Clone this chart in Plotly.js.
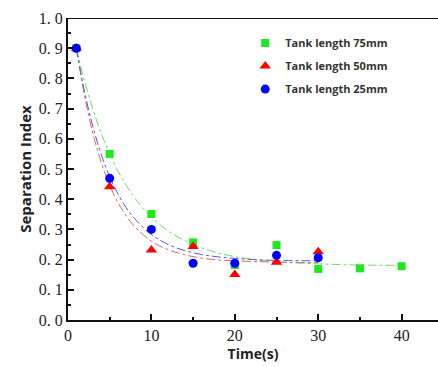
<!DOCTYPE html>
<html>
<head>
<meta charset="utf-8">
<script src="https://cdn.plot.ly/plotly-3.0.1.min.js"></script>
<style>html,body{margin:0;padding:0;background:#fff;}#chart{width:438px;height:367px;}</style>
</head>
<body>
<div id="chart"></div>
<script>
// measured points
const timeLong = [1, 5, 10, 15, 20, 25, 30, 35, 40];
const len75 = [0.90, 0.55, 0.351, 0.257, 0.182, 0.248, 0.169, 0.171, 0.178];
const timeShort = [1, 5, 10, 15, 20, 25, 30];
const len50 = [0.90, 0.441, 0.232, 0.243, 0.151, 0.191, 0.226];
const len25 = [0.90, 0.469, 0.300, 0.188, 0.188, 0.214, 0.206];

// fitted curves
const fitTimeLong = [1, 2, 3, 4, 5, 6, 7, 8, 10, 12, 14, 16, 18, 20, 23, 26, 30, 35, 40];
const fit75 = [0.900, 0.790, 0.696, 0.617, 0.550, 0.493, 0.445, 0.404, 0.341, 0.295, 0.263, 0.239, 0.222, 0.210, 0.198, 0.191, 0.186, 0.182, 0.181];
const fitTimeShort = [1, 2, 3, 4, 5, 6, 7, 8, 10, 12, 14, 16, 18, 20, 23, 26, 30];
const fit50 = [0.900, 0.740, 0.616, 0.520, 0.446, 0.388, 0.344, 0.309, 0.261, 0.233, 0.216, 0.205, 0.199, 0.196, 0.193, 0.191, 0.190];
const fit25 = [0.900, 0.754, 0.639, 0.547, 0.474, 0.417, 0.371, 0.335, 0.283, 0.250, 0.230, 0.217, 0.209, 0.204, 0.199, 0.197, 0.196];

const names = ['Tank length 75mm', 'Tank length 50mm', 'Tank length 25mm'];
const yTicks = [0, 0.1, 0.2, 0.3, 0.4, 0.5, 0.6, 0.7, 0.8, 0.9, 1.0];
const yTickText = ['0. 0', '0. 1', '0. 2', '0. 3', '0. 4', '0. 5', '0. 6', '0. 7', '0. 8', '0. 9', '1. 0'];
const xTicks = [0, 10, 20, 30, 40];

const fitLine = (x, y, c) => ({x: x, y: y, mode: 'lines', type: 'scatter', showlegend: false, hoverinfo: 'skip',
  line: {color: c, width: 1, dash: 'dashdot', shape: 'spline'}});

const data = [
  fitLine(fitTimeLong, fit75, '#6fdc6f'),
  fitLine(fitTimeShort, fit50, '#d46a6a'),
  fitLine(fitTimeShort, fit25, '#5a5ad0'),
  {x: timeLong, y: len75, mode: 'markers', type: 'scatter', name: names[0], legendgroup: 'a',
   marker: {symbol: 'square', size: 8, color: '#1ee81e'}},
  {x: timeShort, y: len50, mode: 'markers', type: 'scatter', name: names[1], legendgroup: 'b',
   marker: {symbol: 'triangle-up', size: 10, color: '#ff0000'}},
  {x: timeShort, y: len25, mode: 'markers', type: 'scatter', name: names[2], legendgroup: 'c',
   marker: {symbol: 'circle', size: 9, color: '#0000ff'}}
];

const serif = {family: 'Liberation Serif, Times New Roman, serif', size: 16, color: '#222'};

const layout = {
  width: 438, height: 367,
  margin: {l: 68, r: 0, t: 18, b: 47},
  paper_bgcolor: '#fff', plot_bgcolor: '#fff',
  showlegend: true,
  legend: {x: 0.479, y: 0.965, xanchor: 'left', yanchor: 'top', bgcolor: 'rgba(0,0,0,0)',
    font: {family: 'Open Sans, sans-serif', size: 11, color: '#333', weight: 'bold'},
    traceorder: 'grouped', tracegroupgap: 4},
  xaxis: {range: [0, 44.36], tickvals: xTicks, ticks: 'inside', ticklen: 6, tickwidth: 2, tickcolor: '#111',
    showline: true, linecolor: '#111', linewidth: 2, showgrid: false, zeroline: false,
    tickfont: serif,
    minor: {dtick: 5, tick0: 0, ticks: 'inside', ticklen: 3, tickwidth: 2, tickcolor: '#111', showgrid: false},
    title: {text: 'Time(s)', standoff: 6, font: {family: 'Open Sans, sans-serif', size: 14, color: '#222', weight: 'bold'}}},
  yaxis: {range: [0, 1.0], tickvals: yTicks, ticktext: yTickText, ticks: 'inside', ticklen: 6, tickwidth: 2, tickcolor: '#111',
    showline: true, linecolor: '#111', linewidth: 2, showgrid: false, zeroline: false,
    tickfont: serif,
    minor: {dtick: 0.05, tick0: 0, ticks: 'inside', ticklen: 3, tickwidth: 2, tickcolor: '#111', showgrid: false},
    title: {text: 'Separation Index', standoff: 4, font: {family: 'Open Sans, sans-serif', size: 15, color: '#222', weight: 'bold'}}},
  shapes: [{type: 'line', xref: 'paper', yref: 'y', x0: 0, x1: 1, y0: 1.0, y1: 1.0, line: {color: '#111', width: 2}}]
};

Plotly.newPlot('chart', data, layout, {displayModeBar: false, staticPlot: true});
</script>
</body>
</html>
